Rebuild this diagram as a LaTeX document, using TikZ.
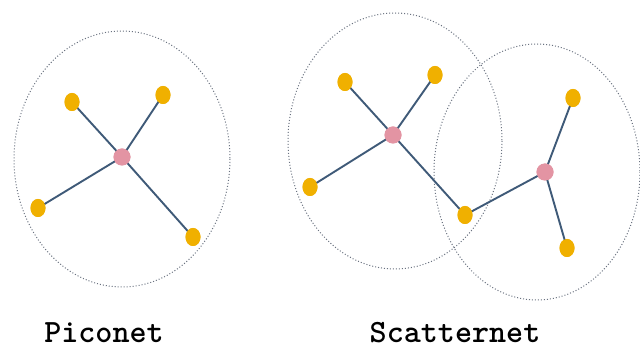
\documentclass[tikz,border=0pt]{standalone}
\usepackage{fontspec}
\usetikzlibrary{shapes.geometric}
\begin{document}
\begin{tikzpicture}[x=1pt,y=-1pt,
  slave/.style={ellipse,fill=nodeyellow,minimum width=15pt,minimum height=18pt,inner sep=0pt},
  master/.style={circle,fill=nodepink,minimum size=17pt,inner sep=0pt},
  link/.style={draw=linkcol,line width=1.9pt},
  rangering/.style={draw=rangecol,line width=1pt,dotted},
  lbl/.style={font=\ttfamily\bfseries\fontsize{32.5}{34}\selectfont,text=black}]
\definecolor{nodeyellow}{HTML}{F0B000}
\definecolor{nodepink}{HTML}{E394A3}
\definecolor{linkcol}{HTML}{3F5A78}
\definecolor{rangecol}{HTML}{6A7280}
\useasboundingbox (0,0) rectangle (640,352);
\fill[white] (0,0) rectangle (640,352);
% range ellipses
\draw[rangering] (122,159) ellipse [x radius=108, y radius=128];
\draw[rangering] (395,141) ellipse [x radius=107, y radius=128];
\draw[rangering] (537,172) ellipse [x radius=103, y radius=128];
% piconet
\node[master] (m1) at (122,157) {};
\node[slave] (a1) at (72,102) {};
\node[slave] (a2) at (163,95) {};
\node[slave] (a3) at (38,208) {};
\node[slave] (a4) at (193,237) {};
% scatternet
\node[master] (m2) at (393,135) {};
\node[slave] (b1) at (345,82) {};
\node[slave] (b2) at (435,75) {};
\node[slave] (b3) at (310,187) {};
\node[slave] (br) at (465,215) {};
\node[master] (m3) at (545,172) {};
\node[slave] (c1) at (573,98) {};
\node[slave] (c2) at (567,248) {};
\foreach \s in {a1,a2,a3,a4} \draw[link] (m1.center) -- (\s.center);
\foreach \s in {b1,b2,b3,br} \draw[link] (m2.center) -- (\s.center);
\foreach \s in {c1,c2,br} \draw[link] (m3.center) -- (\s.center);
% redraw nodes over links
\foreach \n in {m1,m2,m3} \fill[nodepink] (\n) circle (8.5pt);
\foreach \n in {a1,a2,a3,a4,b1,b2,b3,br,c1,c2} \fill[nodeyellow] (\n) ellipse [x radius=7.5, y radius=9];
% labels
\node[lbl] (pl) at (104,333) {Piconet};
\node[lbl] (sl) at (455,333) {Scatternet};
\end{tikzpicture}
\end{document}
